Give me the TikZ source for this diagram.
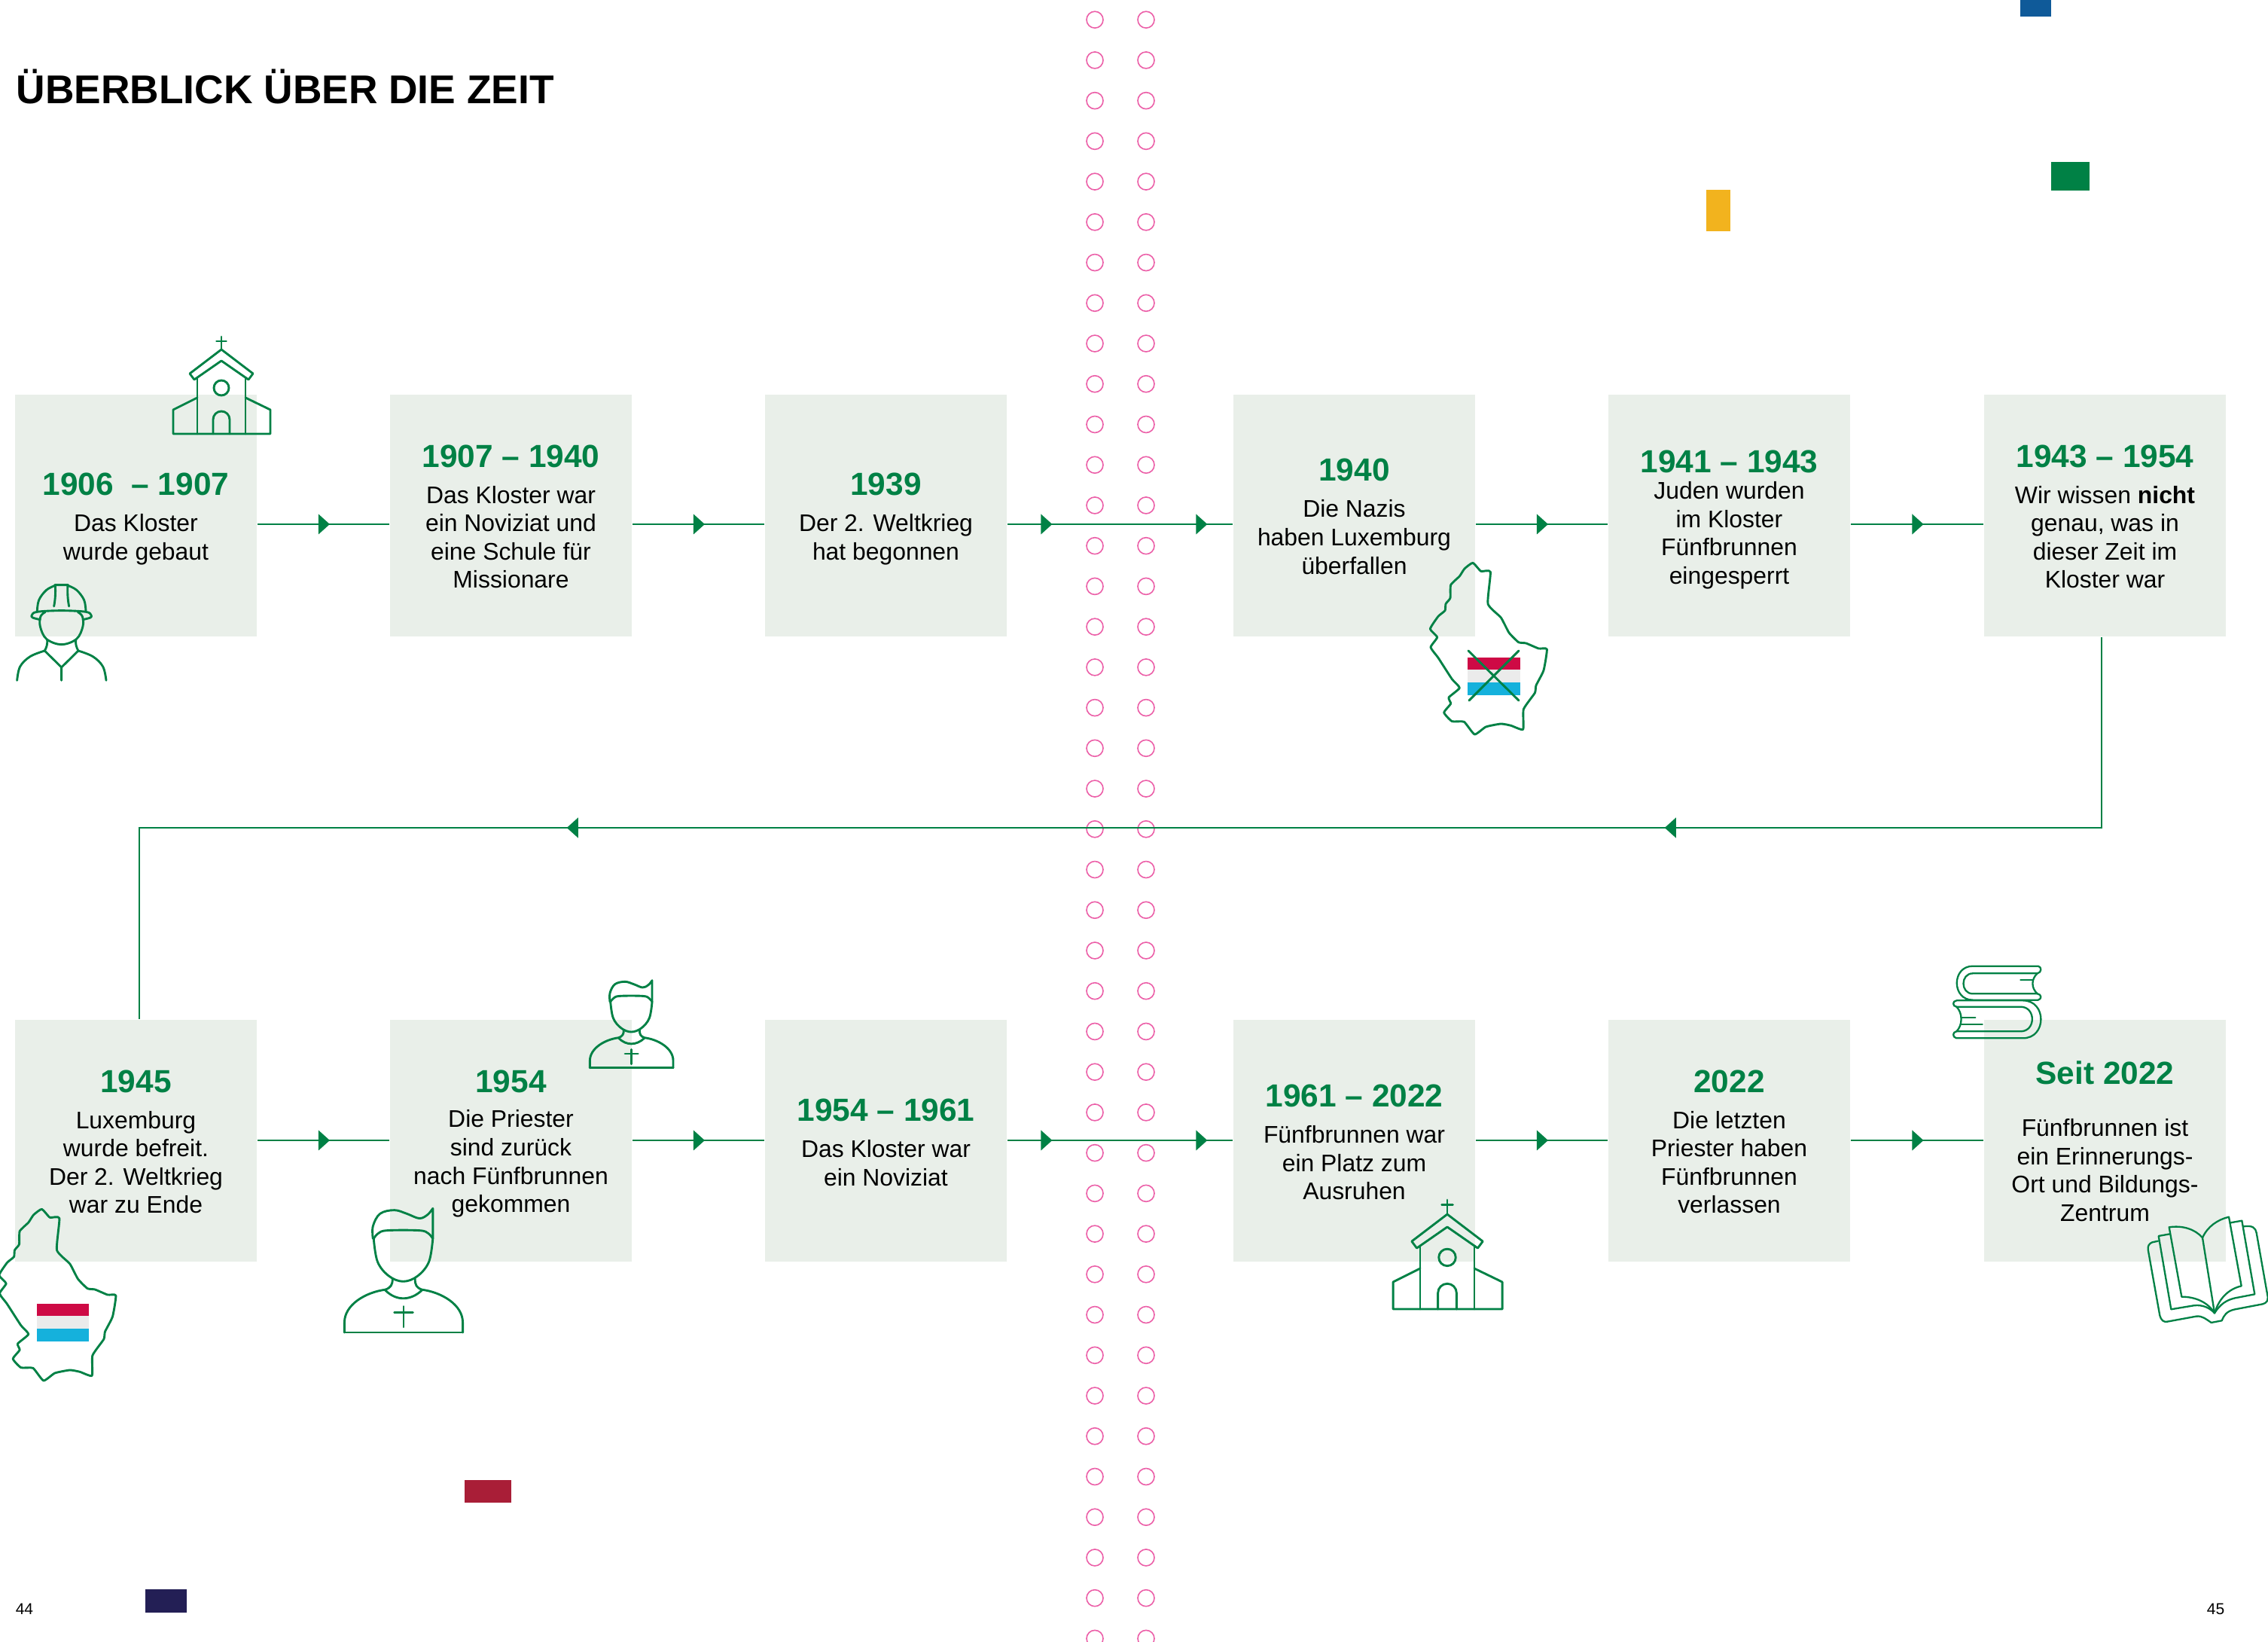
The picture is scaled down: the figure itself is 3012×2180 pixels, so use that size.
\documentclass[tikz,border=0pt]{standalone}
\usepackage{fontspec}
\setmainfont{Liberation Sans}
\usetikzlibrary{decorations.markings}
\definecolor{grn}{HTML}{008145}
\definecolor{boxbg}{HTML}{E9EFE9}
\definecolor{pinkring}{HTML}{EC5FA8}
\definecolor{flagred}{HTML}{CE0A45}
\definecolor{flagwhite}{HTML}{EBEBEB}
\definecolor{flagblue}{HTML}{15B1DC}
\definecolor{rblue}{HTML}{0F5A99}
\definecolor{ryellow}{HTML}{F2B31E}
\definecolor{rred}{HTML}{A91E37}
\definecolor{rnavy}{HTML}{231F55}
\newcommand{\yr}[2][8.1pt]{{\rule{0pt}{#1}\fontsize{10.6}{9.4}\selectfont\bfseries\color{grn}#2}}
\tikzset{
  x=0.25pt,y=-0.25pt,
  box/.style={fill=boxbg,draw=none,minimum width=80.25pt,minimum height=80.25pt,inner sep=0pt,align=center,font=\fontsize{7.97}{9.4}\selectfont,text=black},
  ring/.style={draw=pinkring,line width=0.4pt},
  icon/.style={draw=grn,line width=0.72pt,line join=round,line cap=round},
  thinicon/.style={draw=grn,line width=0.58pt,line join=round,line cap=round},
  conn/.style={draw=grn,line width=0.72pt},
  arrowat/.style={postaction={decorate,decoration={markings,mark=at position #1 with {\fill[grn] (-15,-13.5) -- (0,0) -- (-15,13.5) -- cycle;}}}},
  arrowtwo/.style 2 args={postaction={decorate,decoration={markings,
     mark=at position #1 with {\fill[grn] (-15,-13.5) -- (0,0) -- (-15,13.5) -- cycle;},
     mark=at position #2 with {\fill[grn] (-15,-13.5) -- (0,0) -- (-15,13.5) -- cycle;}}}},
  pics/church/.style={code={
    \draw[icon] (0,-129) -- (0,-112) (-6.5,-123) -- (6.5,-123);
    \draw[icon] (-36,-72) -- (-42,-80) -- (0,-112) -- (42,-80) -- (36,-72) -- (0,-97) -- cycle;
    \draw[icon] (-32,-74) -- (-32,0) (32,-74) -- (32,0);
    \draw[icon] (0,-61) circle[radius=10];
    \draw[icon] (-11,0) -- (-11,-19) arc[start angle=180,end angle=360,radius=11] -- (11,0);
    \draw[icon] (-32,-48) -- (-64,-32) -- (-64,0) -- (65,0) -- (65,-32) -- (32,-48);
  }},
  pics/luxmap/.style={code={
    \begin{scope}[scale=1/3]
    \draw[icon] plot[smooth cycle,tension=.3] coordinates {(318,142)(350,175)(388,178)(378,305)(430,360)(462,420)(500,458)(530,462)(580,483)(613,486)(600,570)(570,630)(565,660)(520,725)(518,805)(470,790)(430,783)(370,795)(325,825)(283,775)(235,773)(203,738)(230,703)(222,678)(265,640)(235,605)(180,520)(150,478)(176,438)(148,405)(180,355)(207,332)(210,305)(228,282)(230,230)(265,195)(285,165)};
    \fill[flagred] (298,519) rectangle (507,568);
    \fill[flagwhite] (298,568) rectangle (507,618);
    \fill[flagblue] (298,618) rectangle (507,668);
    \end{scope}
  }},
  pics/priest/.style={code={
    \begin{scope}[scale=1/3,shift={(-236,-413)}]
    \draw[icon] plot[smooth,tension=.6] coordinates {(150,150)(150,115)(170,80)(210,70)(245,80)(280,93)(303,83)(318,65)} -- (318,150);
    \draw[icon] plot[smooth,tension=.6] coordinates {(152,150)(165,135)(190,127)(280,127)(305,135)(318,150)};
    \draw[icon] plot[smooth,tension=.6] coordinates {(152,150)(163,215)(195,255)(235,270)(275,255)(307,215)(318,150)};
    \draw[icon] (205,262) .. controls (205,280) and (200,287) .. (185,293);
    \draw[icon] (268,262) .. controls (268,280) and (272,287) .. (287,293);
    \draw[icon] (185,295) .. controls (215,325) and (255,325) .. (287,295);
    \draw[icon] (70,413) -- (70,385) .. controls (70,335) and (130,300) .. (185,293);
    \draw[icon] (402,413) -- (402,385) .. controls (402,335) and (342,300) .. (287,293);
    \draw[icon] (70,413) -- (402,413);
    \draw[icon] (236,340) -- (236,398) (210,357) -- (262,357);
    \end{scope}
  }}
}
\begin{document}
\begin{tikzpicture}
\useasboundingbox (0,0) rectangle (3012,2180);
\fill[white] (0,0) rectangle (3012,2180);
% dotted rings
\foreach \k in {0,...,40}{
  \draw[ring] (1454,{26.2+\k*53.73}) circle[radius=11];
  \draw[ring] (1522,{26.2+\k*53.73}) circle[radius=11];
}
% colour patches
\fill[rblue] (2683,0) rectangle (2724,22);
\fill[grn] (2724,215) rectangle (2775,253);
\fill[ryellow] (2266,252) rectangle (2298,307);
\fill[rred] (617,1965) rectangle (679,1995);
\fill[rnavy] (193,2110) rectangle (248,2141);
% heading and page numbers
\node[anchor=base west,inner sep=0pt,font=\fontsize{13.33}{15}\selectfont\bfseries] (head) at (21,138) {ÜBERBLICK ÜBER DIE ZEIT};
\node[anchor=base west,inner sep=0pt,font=\fontsize{5.25}{6}\selectfont] (p44) at (20,2143) {44};
\node[anchor=base east,inner sep=0pt,font=\fontsize{5.25}{6}\selectfont] (p45) at (2955,2143) {45};
% row one
\node[box] (b1) at (180.5,684.5) {\yr[9.8pt]{1906\ \ – 1907}\\[2.6pt]Das Kloster\\wurde gebaut};
\node[box] (b2) at (678.5,684.5) {\yr{1907 – 1940}\\[2.6pt]Das Kloster war\\ein Noviziat und\\eine Schule für\\Missionare};
\node[box] (b3) at (1176.5,684.5) {\yr[9.8pt]{1939}\\[2.6pt]Der 2. Weltkrieg\\hat begonnen};
\node[box] (b4) at (1798.5,684.5) {\yr{1940}\\[2.6pt]Die Nazis\\haben Luxemburg\\überfallen};
\node[box] (b5) at (2296.5,684.5) {\yr[10.1pt]{1941 – 1943}\\[-0.6pt]Juden wurden\\im Kloster\\Fünfbrunnen\\eingesperrt};
\node[box] (b6) at (2795.5,684.5) {\yr{1943 – 1954}\\[2.6pt]Wir wissen \textbf{nicht}\\genau, was in\\dieser Zeit im\\Kloster war};
% row two
\node[box] (b7) at (180.5,1514.5) {\yr{1945}\\[2.6pt]Luxemburg\\wurde befreit.\\Der 2. Weltkrieg\\war zu Ende};
\node[box] (b8) at (678.5,1514.5) {\yr[9.6pt]{1954}\\[2.1pt]Die Priester\\sind zurück\\nach Fünfbrunnen\\gekommen};
\node[box] (b9) at (1176.5,1514.5) {\yr[8.5pt]{1954 – 1961}\\[2.6pt]Das Kloster war\\ein Noviziat};
\node[box] (b10) at (1798.5,1514.5) {\yr[8.5pt]{1961 – 2022}\\[2.6pt]Fünfbrunnen war\\ein Platz zum\\Ausruhen};
\node[box] (b11) at (2296.5,1514.5) {\yr{2022}\\[2.6pt]Die letzten\\Priester haben\\Fünfbrunnen\\verlassen};
\node[box] (b12) at (2795.5,1514.5) {\yr[8.1pt]{Seit 2022}\\[7.9pt]Fünfbrunnen ist\\ein Erinnerungs-\\Ort und Bildungs-\\Zentrum};
% connectors
\coordinate (rowA) at (0,696);
\coordinate (rowB) at (0,1514);
\coordinate (dropR) at (2791,1099);
\coordinate (dropL) at (185,1099);
\draw[conn,arrowat=.548] (b1.east |- rowA) -- (b2.west |- rowA);
\draw[conn,arrowat=.548] (b2.east |- rowA) -- (b3.west |- rowA);
\draw[conn,arrowtwo={.199}{.887}] (b3.east |- rowA) -- (b4.west |- rowA);
\draw[conn,arrowat=.548] (b4.east |- rowA) -- (b5.west |- rowA);
\draw[conn,arrowat=.548] (b5.east |- rowA) -- (b6.west |- rowA);
\draw[conn,arrowtwo={.2677}{.736}] (dropR |- b6.south) -- (dropR) -- (dropL) -- (dropL |- b7.north);
\draw[conn,arrowat=.548] (b7.east |- rowB) -- (b8.west |- rowB);
\draw[conn,arrowat=.548] (b8.east |- rowB) -- (b9.west |- rowB);
\draw[conn,arrowtwo={.199}{.887}] (b9.east |- rowB) -- (b10.west |- rowB);
\draw[conn,arrowat=.548] (b10.east |- rowB) -- (b11.west |- rowB);
\draw[conn,arrowat=.548] (b11.east |- rowB) -- (b12.west |- rowB);
% churches
\pic at (294,576) {church};
\pic[scale=1.124] at (1922,1738) {church};
% worker
\begin{scope}[shift={(0,420)},scale=1/3]
  \draw[icon] plot[smooth,tension=.6] coordinates {(148,1175)(155,1130)(185,1090)(220,1072)};
  \draw[icon] plot[smooth,tension=.6] coordinates {(270,1072)(305,1090)(335,1130)(342,1175)};
  \draw[icon] (218,1070) -- (272,1070) (220,1070) .. controls (222,1100) and (220,1130) .. (215,1155) (270,1070) .. controls (268,1100) and (270,1130) .. (275,1155);
  \draw[icon] plot[smooth,tension=.6] coordinates {(160,1208)(130,1200)(127,1190)(148,1177)(245,1172)(342,1177)(363,1190)(360,1200)(330,1208)};
  \draw[icon] plot[smooth,tension=.6] coordinates {(180,1178)(162,1195)(160,1235)(185,1285)(245,1307)(305,1285)(330,1235)(328,1195)(310,1178)};
  \draw[icon] (188,1288) .. controls (190,1305) and (185,1320) .. (178,1332);
  \draw[icon] (302,1288) .. controls (300,1305) and (305,1320) .. (312,1332);
  \draw[icon] plot[smooth,tension=.6] coordinates {(178,1332)(120,1355)(80,1395)(68,1450)};
  \draw[icon] plot[smooth,tension=.6] coordinates {(312,1332)(370,1355)(410,1395)(423,1450)};
  \draw[icon] (178,1332) -- (245,1398) -- (312,1332) (245,1398) -- (245,1450);
\end{scope}
% maps
\pic at (1850,700) {luxmap};
\draw[icon] (1950,864) -- (2017,930) (2017,864) -- (1951,930);
\pic at (-50.5,1558) {luxmap};
% priests
\pic at (838.7,1417.7) {priest};
\pic[scale=1.42] at (536,1769) {priest};
% books
\begin{scope}[shift={(2560,1260)},scale=1/3]
  \draw[thinicon] (440,68) -- (180,68) .. controls (95,68) and (95,203) .. (180,203) -- (440,203) .. controls (455,200) and (455,180) .. (437,178) -- (180,178) .. controls (130,178) and (130,97) .. (180,97) -- (437,97) .. controls (455,94) and (455,70) .. (440,68);
  \draw[thinicon] (437,97) .. controls (412,120) and (412,155) .. (437,178);
  \draw[thinicon] (370,123) -- (418,123);
  \draw[thinicon] (115,205) -- (380,205) .. controls (475,205) and (475,355) .. (380,355) -- (115,355) .. controls (98,352) and (98,330) .. (115,328) -- (370,328) .. controls (432,328) and (432,230) .. (370,230) -- (115,230) .. controls (98,228) and (98,207) .. (115,205);
  \draw[thinicon] (115,230) .. controls (140,255) and (140,303) .. (115,328);
  \draw[thinicon] (135,272) -- (190,272) (135,300) -- (218,300);
  % open book
  \draw[thinicon] (918,1163) -- (895,1168) .. controls (882,1172) and (876,1185) .. (878,1197) -- (925,1460) .. controls (930,1478) and (940,1487) .. (955,1484) -- (1070,1463) .. controls (1095,1460) and (1110,1475) .. (1130,1488) -- (1172,1480) .. controls (1180,1460) and (1190,1442) .. (1225,1435) -- (1335,1414) .. controls (1350,1410) and (1357,1400) .. (1355,1385) -- (1310,1130) .. controls (1306,1110) and (1295,1100) .. (1258,1105);
  \draw[thinicon] (965,1135) -- (920,1143) -- (970,1435) -- (1060,1420) .. controls (1095,1415) and (1125,1430) .. (1143,1450) .. controls (1165,1415) and (1190,1398) .. (1225,1390) -- (1303,1375) -- (1252,1082) -- (1207,1090);
  \draw[thinicon] (1143,1450) -- (1095,1150) .. controls (1065,1115) and (1015,1100) .. (962,1108) -- (1012,1385) .. controls (1065,1385) and (1115,1405) .. (1143,1450);
  \draw[thinicon] (1095,1150) .. controls (1115,1105) and (1155,1078) .. (1200,1067) -- (1250,1342) .. controls (1195,1355) and (1160,1395) .. (1143,1450);
\end{scope}
\end{tikzpicture}
\end{document}
